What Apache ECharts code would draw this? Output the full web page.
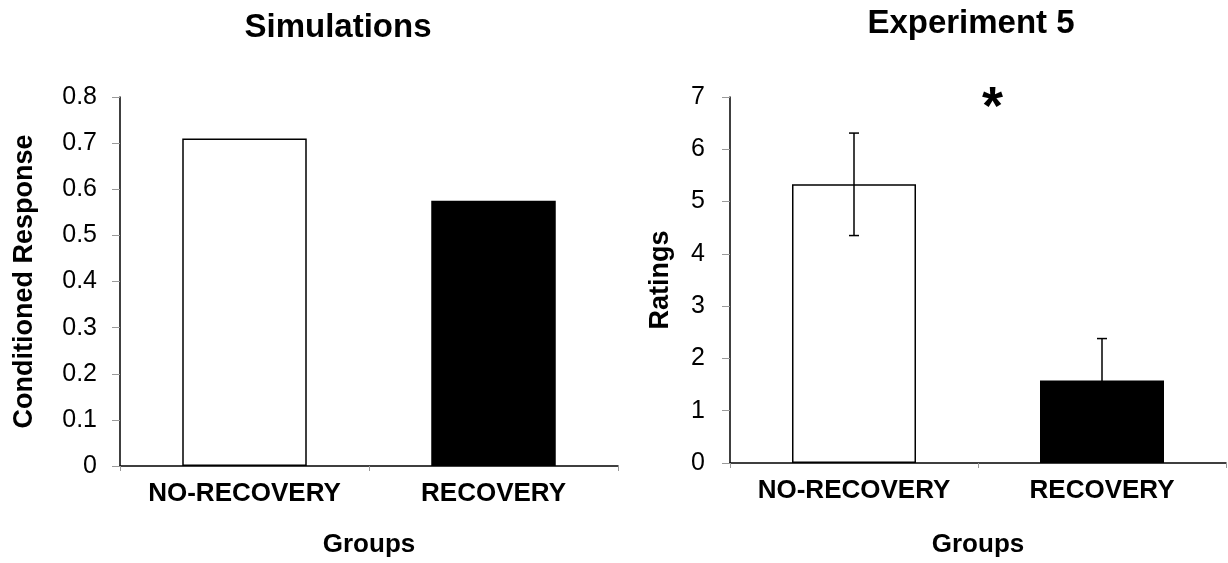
<!DOCTYPE html>
<html>
<head>
<meta charset="utf-8">
<script src="https://cdn.jsdelivr.net/npm/echarts@6/dist/echarts.min.js"></script>
<style>
  html, body { margin: 0; padding: 0; background: #fff; }
  #chart { width: 1228px; height: 563px; }
</style>
</head>
<body>
<div id="chart"></div>
<script>
// Groups shown in both panels
const groups = ['NO-RECOVERY', 'RECOVERY'];

// Left panel: model simulations
const simTitle = 'Simulations';
const simValues = [0.71, 0.575];

// Right panel: Experiment 5 mean ratings with error bars
const expTitle = 'Experiment 5';
const expValues = [5.33, 1.58];
const expErrors = [0.98, 0.80];

const barColors = ['#ffffff', '#000000'];
const FONT = 'Liberation Sans, Arial, Helvetica, sans-serif';

const chart = echarts.init(document.getElementById('chart'));

function xAxisFor(gridIndex, gap) {
  return {
    type: 'category',
    gridIndex: gridIndex,
    data: groups,
    name: 'Groups',
    nameLocation: 'middle',
    nameGap: gap,
    nameTextStyle: { fontFamily: FONT, fontWeight: 'bold', fontSize: 26, color: '#000' },
    axisLine: { lineStyle: { color: '#000', width: 1.5 } },
    axisTick: { show: true, length: 5, interval: 0, lineStyle: { color: '#999', width: 1 } },
    axisLabel: {
      interval: 0, hideOverlap: false,
      fontFamily: FONT, fontWeight: 'bold', fontSize: 26, color: '#000', margin: 15
    },
    splitLine: { show: false }
  };
}

function yAxisFor(gridIndex, max, interval, name, gap, margin) {
  return {
    type: 'value',
    gridIndex: gridIndex,
    min: 0,
    max: max,
    interval: interval,
    name: name,
    nameLocation: 'middle',
    nameRotate: 90,
    nameGap: gap,
    nameTextStyle: { fontFamily: FONT, fontWeight: 'bold', fontSize: 27, color: '#000' },
    axisLine: { show: true, lineStyle: { color: '#000', width: 1.5 } },
    axisTick: { show: true, length: 8, lineStyle: { color: '#999', width: 1 } },
    axisLabel: { fontFamily: FONT, fontSize: 25, color: '#000', margin: margin },
    splitLine: { show: false }
  };
}

function barData(values) {
  return values.map((v, i) => ({
    value: v,
    itemStyle: {
      color: barColors[i],
      borderColor: '#000',
      borderWidth: i === 0 ? 1.5 : 0
    }
  }));
}

chart.setOption({
  animation: false,
  backgroundColor: '#fff',
  title: [
    {
      text: simTitle, left: 333, top: 6, textAlign: 'center',
      textStyle: { fontFamily: FONT, fontWeight: 'bold', fontSize: 33, color: '#000' }
    },
    {
      text: expTitle, left: 966, top: 2, textAlign: 'center',
      textStyle: { fontFamily: FONT, fontWeight: 'bold', fontSize: 33, color: '#000' }
    }
  ],
  grid: [
    { left: 120, top: 97, width: 498, height: 373 },
    { left: 730, top: 97, width: 496, height: 373 }
  ],
  xAxis: [xAxisFor(0, 66), xAxisFor(1, 69)],
  yAxis: [
    yAxisFor(0, 0.8, 0.1, 'Conditioned Response', 82, 23),
    yAxisFor(1, 7, 1, 'Ratings', 56, 25)
  ],
  series: [
    {
      type: 'bar', xAxisIndex: 0, yAxisIndex: 0,
      barWidth: '50%', data: barData(simValues)
    },
    {
      type: 'bar', xAxisIndex: 1, yAxisIndex: 1,
      barWidth: '50%', data: barData(expValues)
    },
    {
      // error bars (mean ± error) on the ratings panel
      type: 'custom', xAxisIndex: 1, yAxisIndex: 1, z: 5,
      data: expValues.map((v, i) => [i, v - expErrors[i], v + expErrors[i]]),
      renderItem: function (params, api) {
        const lo = api.coord([api.value(0), api.value(1)]);
        const hi = api.coord([api.value(0), api.value(2)]);
        const cap = 5;
        const style = { stroke: '#000', lineWidth: 1.5 };
        return {
          type: 'group',
          children: [
            { type: 'line', shape: { x1: hi[0], y1: hi[1], x2: lo[0], y2: lo[1] }, style: style },
            { type: 'line', shape: { x1: hi[0] - cap, y1: hi[1], x2: hi[0] + cap, y2: hi[1] }, style: style },
            { type: 'line', shape: { x1: lo[0] - cap, y1: lo[1], x2: lo[0] + cap, y2: lo[1] }, style: style }
          ]
        };
      }
    }
  ],
  graphic: [
    {
      // significance marker between the two groups
      type: 'text', left: 982, top: 82,
      style: { text: '*', fontFamily: FONT, fontWeight: 'bold', fontSize: 54, fill: '#000' }
    }
  ]
});
</script>
</body>
</html>
